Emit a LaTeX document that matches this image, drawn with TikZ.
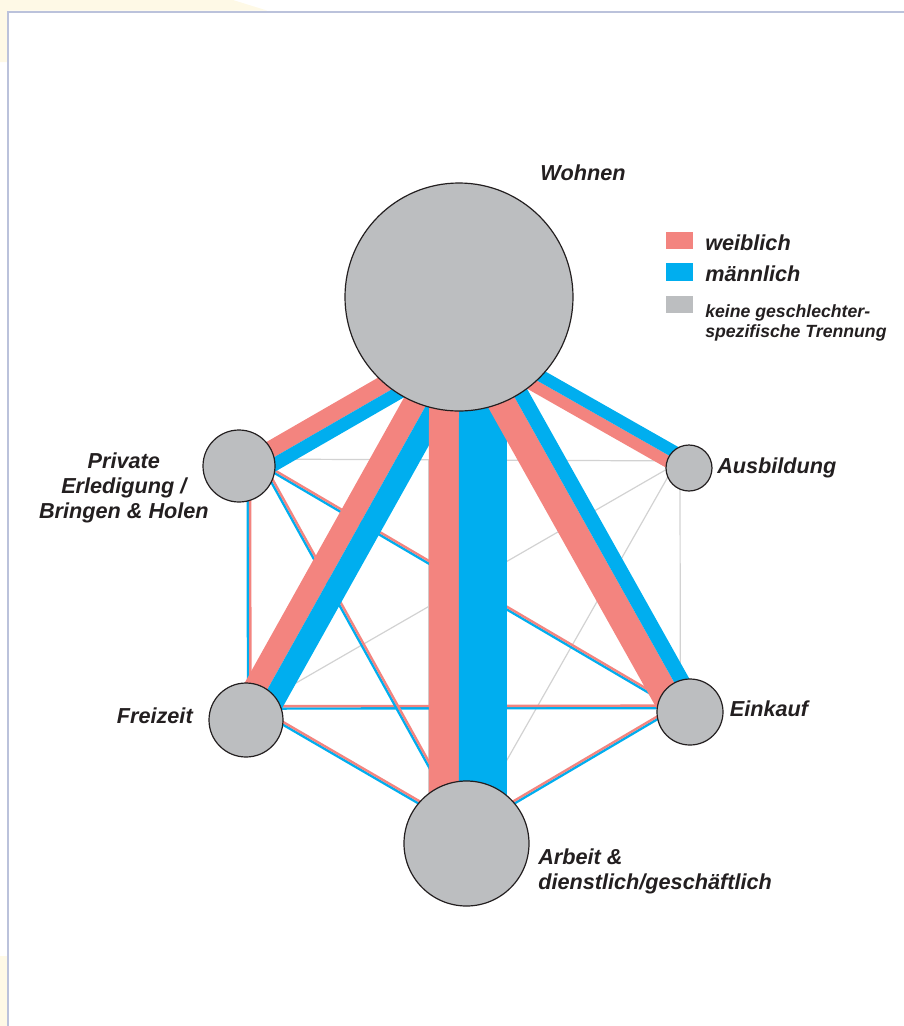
\documentclass[tikz,border=0pt]{standalone}
\usepackage{fontspec}
\setmainfont{Liberation Sans}
\usepackage{tikz}
\usetikzlibrary{calc,positioning,backgrounds}

\definecolor{weibl}{HTML}{F3847F}
\definecolor{maennl}{HTML}{00AEEF}
\definecolor{keine}{HTML}{BCBEC0}
\definecolor{linegray}{HTML}{D2D2D2}
\definecolor{rahmen}{HTML}{BBC2DB}
\definecolor{creme}{HTML}{FEF9E6}
\definecolor{schrift}{HTML}{231F20}

\begin{document}
\begin{tikzpicture}[x=0.75pt, y=-0.75pt]
  \tikzset{PlaceStyle/.style = {shape          = circle,
                                draw           = schrift,
                                fill           = keine,
                                line width     = 0.9pt,
                                inner sep      = 0pt,
                                outer sep      = 0pt}}
  \tikzset{LabelStyle/.style = {inner sep      = 0pt,
                                text           = schrift,
                                font           = \fontsize{16.25}{18.75}\selectfont\bfseries\itshape}}
  \tikzset{LegendBox/.style = {shape          = rectangle,
                                inner sep      = 0pt,
                                outer sep      = 0pt,
                                minimum width  = 20.25pt,
                                minimum height = 12.75pt}}
  \tikzset{LegendText/.style = {inner sep      = 0pt,
                                text           = schrift,
                                font           = \fontsize{16.25}{18.75}\selectfont\bfseries\itshape}}
  \tikzset{LegendSmall/.style = {inner sep     = 0pt,
                                text           = schrift,
                                align          = left,
                                font           = \fontsize{13.25}{15}\selectfont\bfseries\itshape}}
  \tikzset{PinkBar/.style = {draw = weibl, shorten <= -15pt, shorten >= -15pt}}
  \tikzset{BlueBar/.style = {draw = maennl, shorten <= -15pt, shorten >= -15pt}}
  \tikzset{ThinPink/.style = {draw = weibl, line width = 1.8pt, shorten <= -6pt, shorten >= -6pt}}
  \tikzset{ThinBlue/.style = {draw = maennl, line width = 1.8pt, shorten <= -6pt, shorten >= -6pt}}
  \tikzset{GrayLink/.style = {draw = linegray, line width = 0.9pt}}

  \useasboundingbox (0,0) rectangle (904,1026);

  %%% ORTE %%%
  \node[PlaceStyle, minimum size=171pt,
        label={[LabelStyle, label distance=1.5pt, xshift=93pt]above:Wohnen}](w) at (459,297) {};
  \node[PlaceStyle, minimum size=54pt,
        label={[LabelStyle, align=center, xshift=4.5pt, yshift=-16.7pt]left:{Private\\Erledigung /\\Bringen \& Holen}}](p) at (239,466) {};
  \node[PlaceStyle, minimum size=34.5pt,
        label={[LabelStyle, label distance=3.75pt]right:Ausbildung}](au) at (689,468) {};
  \node[PlaceStyle, minimum size=49.5pt,
        label={[LabelStyle, label distance=5pt, yshift=2.25pt]right:Einkauf}](e) at (690,712) {};
  \node[PlaceStyle, minimum size=55.5pt,
        label={[LabelStyle, label distance=12pt, yshift=3pt]left:Freizeit}](f) at (246,720) {};
  \node[PlaceStyle, minimum size=93.75pt,
        label={[LabelStyle, align=left, label distance=6.75pt, yshift=-20.7pt]right:{Arbeit \&\\dienstlich/geschäftlich}}](a) at (466.5,843.5) {};

  %%% LEGENDE %%%
  \node[LegendBox, fill=weibl](lgw) at (679.5,240.5) {};
  \node[LegendText, right=9pt of lgw, yshift=-1.5pt](tw) {weiblich};
  \node[LegendBox, fill=maennl, minimum height=13.5pt](lgm) at (679.5,272) {};
  \node[LegendText, right=9pt of lgm, yshift=-1.5pt](tm) {männlich};
  \node[LegendBox, fill=keine](lgk) at (679.5,304.5) {};
  \node[LegendSmall, right=9pt of lgk.north east, anchor=north west, yshift=-6pt](tk) {keine geschlechter-\\spezifische Trennung};

  \begin{pgfonlayer}{background}
	%%% RAHMEN %%%
	\fill[creme] (0,0) -- (233,0) -- (267,10.5) -- (8,10.5) -- (8,62) -- (0,62) -- cycle;
	\fill[creme] (0,956) rectangle (7.5,1026);
	\draw[rahmen, line width=1.4pt] (8.2,1026) -- (8.2,11.8) -- (904,11.8);
	%%% GRAUE VERBINDUNGEN %%%
	\draw[GrayLink](p.11) to (au.162);
	\draw[GrayLink](au.-113) to (e.107.6);
	\draw[GrayLink](au.184) to (f.41.5);
	\draw[GrayLink](au.203) to (a.66);
	\coordinate (knick) at (428.5,459);
	\draw[GrayLink](knick) to (knick |- a.center);
	%%% DUENNE LINIEN %%%
	\draw[ThinBlue]($(f.85)!0.9pt!90:(p.-74)$) to ($(p.-74)!0.9pt!-90:(f.85)$);
	\draw[ThinPink]($(f.85)!0.9pt!-90:(p.-74)$) to ($(p.-74)!0.9pt!90:(f.85)$);
	\draw[ThinBlue]($(e.171)!0.9pt!90:(f.20.6)$) to ($(f.20.6)!0.9pt!-90:(e.171)$);
	\draw[ThinPink]($(e.171)!0.9pt!-90:(f.20.6)$) to ($(f.20.6)!0.9pt!90:(e.171)$);
	\draw[ThinBlue]($(a.139)!0.9pt!90:(f.-5)$) to ($(f.-5)!0.9pt!-90:(a.139)$);
	\draw[ThinPink]($(a.139)!0.9pt!-90:(f.-5)$) to ($(f.-5)!0.9pt!90:(a.139)$);
	\draw[ThinBlue]($(a.114.5)!0.9pt!90:(p.-24)$) to ($(p.-24)!0.9pt!-90:(a.114.5)$);
	\draw[ThinPink]($(a.114.5)!0.9pt!-90:(p.-24)$) to ($(p.-24)!0.9pt!90:(a.114.5)$);
	\draw[ThinBlue]($(e.155)!0.9pt!90:(p.-9)$) to ($(p.-9)!0.9pt!-90:(e.155)$);
	\draw[ThinPink]($(e.155)!0.9pt!-90:(p.-9)$) to ($(p.-9)!0.9pt!90:(e.155)$);
	\draw[ThinBlue]($(e.190.7)!0.9pt!90:(a.41)$) to ($(a.41)!0.9pt!-90:(e.190.7)$);
	\draw[ThinPink]($(e.190.7)!0.9pt!-90:(a.41)$) to ($(a.41)!0.9pt!90:(e.190.7)$);
	%%% DICKE BALKEN AB WOHNEN %%%
	\draw[PinkBar, line width=12.75pt]($(w.234.6)!6.375pt!-90:(p.14)$) to ($(p.14)!6.375pt!90:(w.234.6)$);
	\draw[BlueBar, line width=9.75pt]($(w.234.6)!4.875pt!90:(p.14)$) to ($(p.14)!4.875pt!-90:(w.234.6)$);
	\draw[PinkBar, line width=17.25pt]($(w.253)!8.625pt!-90:(f.55)$) to ($(f.55)!8.625pt!90:(w.253)$);
	\draw[BlueBar, line width=16.5pt]($(w.253)!8.25pt!90:(f.55)$) to ($(f.55)!8.25pt!-90:(w.253)$);
	\draw[PinkBar, line width=22.5pt]($(w.270)!11.25pt!-90:(a.97)$) to ($(a.97)!11.25pt!90:(w.270)$);
	\draw[BlueBar, line width=36pt]($(w.270)!18pt!90:(a.97)$) to ($(a.97)!18pt!-90:(w.270)$);
	\draw[PinkBar, line width=21pt]($(w.-61.5)!10.5pt!-90:(e.118.5)$) to ($(e.118.5)!10.5pt!90:(w.-61.5)$);
	\draw[BlueBar, line width=11.25pt]($(w.-61.5)!5.625pt!90:(e.118.5)$) to ($(e.118.5)!5.625pt!-90:(w.-61.5)$);
	\draw[PinkBar, line width=9pt]($(w.-47.6)!4.5pt!-90:(au.148)$) to ($(au.148)!4.5pt!90:(w.-47.6)$);
	\draw[BlueBar, line width=9pt]($(w.-47.6)!4.5pt!90:(au.148)$) to ($(au.148)!4.5pt!-90:(w.-47.6)$);
  \end{pgfonlayer}
\end{tikzpicture}
\end{document}
